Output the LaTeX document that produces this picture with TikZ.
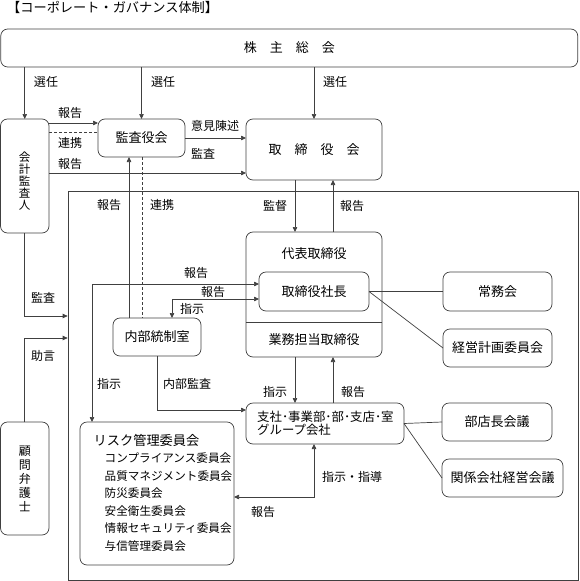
\documentclass[tikz,border=0pt]{standalone}
\usepackage{fontspec}
\setmainfont{Noto Sans CJK JP}
\usetikzlibrary{arrows.meta}
\begin{document}
\begin{tikzpicture}[x=1pt,y=-1pt,
  ln/.style={draw=black!75, line width=0.7pt},
  arr/.style={ln, -{Triangle[length=5pt,width=4.5pt]}},
  darr/.style={ln, {Triangle[length=5pt,width=4.5pt]}-{Triangle[length=5pt,width=4.5pt]}},
  dsh/.style={ln, dash pattern=on 3pt off 2pt},
  box/.style={ln, rounded corners=7pt, inner sep=0pt, outer sep=0pt, font=\fontsize{13}{15}\selectfont},
  lbl/.style={inner sep=0pt, font=\fontsize{12}{14}\selectfont},
  vtxt/.style={inner sep=0pt, align=center},
]
\useasboundingbox (0,0) rectangle (579,581);

% title
\node[inner sep=0pt, anchor=west, font=\fontsize{13.2}{15}\selectfont] (title) at (7,7) {【コーポレート・ガバナンス体制】};

% frame
\node[ln, inner sep=0pt, minimum width=510pt, minimum height=389pt] (frame) at (323,385.5) {};

% boxes
\node[box, minimum width=577pt, minimum height=38pt] (soukai) at (289.25,48) {株\hspace{1em}主\hspace{1em}総\hspace{1em}会};
\node[box, minimum width=48.5pt, minimum height=114pt] (kaikei) at (24.75,176) {};
\node[box, minimum width=87pt, minimum height=38pt] (kansayaku) at (141.5,138) {監査役会};
\node[box, minimum width=136pt, minimum height=61pt] (torishimari) at (314,149.5) {取\hspace{1em}締\hspace{1em}役\hspace{1em}会};
\node[box, minimum width=136pt, minimum height=125pt] (daihyo) at (314,294.5) {};
\node[box, minimum width=110pt, minimum height=39pt, fill=white] (shacho) at (314,291.5) {取締役社長};
\node[box, minimum width=88pt, minimum height=38pt] (naibu) at (157,337) {内部統制室};
\node[box, minimum width=109pt, minimum height=39pt] (joumu) at (497.5,291.5) {常務会};
\node[box, minimum width=109pt, minimum height=38pt] (keiei) at (497.5,348) {経営計画委員会};
\node[box, minimum width=158pt, minimum height=41pt] (shisha) at (325,423.5) {};
\node[box, minimum width=110pt, minimum height=38pt] (buten) at (497,422) {部店長会議};
\node[box, minimum width=121pt, minimum height=38pt] (kankei) at (502.5,478) {関係会社経営会議};
\node[box, minimum width=154pt, minimum height=143pt] (risk) at (157,493.5) {};
\node[box, minimum width=48.5pt, minimum height=113pt] (komon) at (24.75,478.5) {};

% texts inside boxes
\node[vtxt, font=\fontsize{11.5}{11.8}\selectfont] (kaikeitxt) at (24.75,181) {会\\計\\監\\査\\人};
\node[vtxt, font=\fontsize{12}{14}\selectfont] (komontxt) at (24.75,478.5) {顧\\問\\弁\\護\\士};
\node[inner sep=0pt, font=\fontsize{13}{15}\selectfont] (daihyotxt) at (314,254) {代表取締役};
\node[inner sep=0pt, font=\fontsize{13}{15}\selectfont] (gyoumutxt) at (314,340) {業務担当取締役};
\node[inner sep=0pt, anchor=west, align=left, font=\fontsize{12.4}{13}\selectfont] (shishatxt) at (257,423.5) {支社･事業部･部･支店･室\\グループ会社};
\node[inner sep=0pt, anchor=west, font=\fontsize{13.2}{15}\selectfont] (risktitle) at (93.5,440) {リスク管理委員会};
\node[inner sep=0pt, anchor=north west, align=left, font=\fontsize{11.6}{17.5}\selectfont] (risklist) at (104.5,453) {コンプライアンス委員会\\品質マネジメント委員会\\防災委員会\\安全衛生委員会\\情報セキュリティ委員会\\与信管理委員会};

% helper coordinates
\coordinate (h123) at (0,123);
\coordinate (h132) at (0,132);
\coordinate (h173) at (0,173);
\coordinate (h284) at (0,284);
\coordinate (h299) at (0,299);
\coordinate (h316) at (0,316);
\coordinate (h322) at (0,322.5);
\coordinate (h338) at (0,338);
\coordinate (h410) at (0,410);
\coordinate (h497) at (0,497);
\coordinate (v92) at (92,0);
\coordinate (v129) at (129,0);
\coordinate (v142) at (142,0);
\coordinate (v172) at (172,0);
\coordinate (v295) at (295,0);
\coordinate (v314) at (314,0);
\coordinate (v333) at (333,0);

% connectors
\draw[arr] (kaikei.north |- soukai.south) -- (kaikei.north);
\draw[arr] (kansayaku.north |- soukai.south) -- (kansayaku.north);
\draw[arr] (torishimari.north |- soukai.south) -- (torishimari.north);
\draw[arr] (kaikei.east |- h123) -- (kansayaku.west |- h123);
\draw[dsh] (kaikei.east |- h132) -- (kansayaku.west |- h132);
\draw[arr] (kaikei.east |- h173) -- (torishimari.west |- h173);
\draw[arr] (kansayaku.east) -- (torishimari.west |- kansayaku.east);
\draw[arr] (torishimari.south -| v295) -- (daihyo.north -| v295);
\draw[arr] (daihyo.north -| v333) -- (torishimari.south -| v333);
\draw[arr] (kaikei.south) |- (frame.west |- h316);
\draw[arr] (komon.north) |- (frame.west |- h338);
\draw[arr] (naibu.north -| v129) -- (kansayaku.south -| v129);
\draw[dsh] (kansayaku.south -| v142) -- (naibu.north -| v142);
\draw[darr] (risk.north -| v92) |- (shacho.west |- h284);
\draw[darr] (naibu.north -| v172) |- (shacho.west |- h299);
\draw[arr] (naibu.south) |- (shisha.west |- h410);
\draw[arr] (daihyo.south -| v295) -- (shisha.north -| v295);
\draw[arr] (shisha.north -| v333) -- (daihyo.south -| v333);
\draw[ln] (shacho.east) -- (joumu.west);
\draw[ln] (shacho.east) -- (keiei.west);
\draw[ln] (shisha.east) -- (buten.west);
\draw[ln] (shisha.east) -- (kankei.west);
\draw[darr] (shisha.south -| v314) |- (risk.east |- h497);
\draw[ln] (daihyo.west |- h322) -- (daihyo.east |- h322);

% labels
\node[lbl] (l1) at (46,82) {選任};
\node[lbl] (l2) at (163,82) {選任};
\node[lbl] (l3) at (335,82) {選任};
\node[lbl] (l4) at (70,113) {報告};
\node[lbl] (l5) at (70,143) {連携};
\node[lbl] (l6) at (70,164) {報告};
\node[lbl] (l7) at (215,126) {意見陳述};
\node[lbl] (l8) at (203,154) {監査};
\node[lbl] (l9) at (109,205) {報告};
\node[lbl] (l10) at (162,205) {連携};
\node[lbl] (l11) at (275,206) {監督};
\node[lbl] (l12) at (352,206) {報告};
\node[lbl] (l13) at (196,273) {報告};
\node[lbl] (l14) at (213,292) {報告};
\node[lbl] (l15) at (192,309) {指示};
\node[lbl] (l16) at (43,298) {監査};
\node[lbl] (l17) at (43,356) {助言};
\node[lbl] (l18) at (109,384) {指示};
\node[lbl] (l19) at (187,384) {内部監査};
\node[lbl] (l20) at (275,392) {指示};
\node[lbl] (l21) at (353,392) {報告};
\node[lbl] (l22) at (352,477) {指示・指導};
\node[lbl] (l23) at (263,512) {報告};
\end{tikzpicture}
\end{document}
